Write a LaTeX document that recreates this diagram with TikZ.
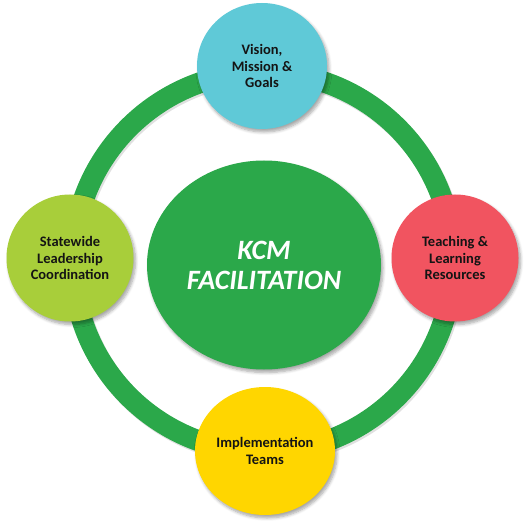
\documentclass[tikz,border=0pt]{standalone}
\usepackage{fontspec}
\setmainfont{Carlito}
\usetikzlibrary{shapes.geometric,shadows.blur}
\definecolor{ringgreen}{RGB}{43,168,74}
\definecolor{cyanc}{RGB}{95,201,215}
\definecolor{limec}{RGB}{168,206,58}
\definecolor{redc}{RGB}{241,84,96}
\definecolor{yellowc}{RGB}{255,214,0}
\definecolor{textc}{RGB}{20,20,20}
\tikzset{
  softshadow/.style={blur shadow={shadow xshift=2pt,shadow yshift=-3pt,shadow blur steps=6,shadow opacity=35,shadow blur radius=3pt}},
  topic/.style={ellipse,inner sep=0pt,softshadow,text=textc,align=center,
    font=\fontsize{14.5}{16.5}\selectfont\bfseries},
  hub/.style={ellipse,inner sep=0pt,softshadow,fill=ringgreen,text=white,align=center,
    font=\fontsize{28}{30}\selectfont\bfseries\itshape}
}
\begin{document}
\begin{tikzpicture}[x=1pt,y=-1pt]
\useasboundingbox (0,0) rectangle (527,526);
\coordinate (ringc) at (263,262);
% ring shadow
\draw[line width=21pt,black,opacity=0.12] ([xshift=1.5pt,yshift=-2pt]ringc) circle[radius=190];
\draw[line width=21pt,ringgreen] (ringc) circle[radius=190];
% hub
\node[hub,minimum width=234pt,minimum height=209pt] (hub) at (264,265) {KCM\\FACILITATION};
% satellites
\node[topic,fill=cyanc,minimum width=130pt,minimum height=126pt] (vision) at (262,66) {Vision,\\Mission \&\\Goals};
\node[topic,fill=limec,minimum width=127pt,minimum height=127pt] (state) at (70,258) {Statewide\\Leadership\\Coordination};
\node[topic,fill=redc,minimum width=127pt,minimum height=127pt] (teach) at (455,258) {Teaching \&\\Learning\\Resources};
\node[topic,fill=yellowc,minimum width=140pt,minimum height=128pt] (impl) at (265,451) {Implementation\\Teams};
\end{tikzpicture}
\end{document}
